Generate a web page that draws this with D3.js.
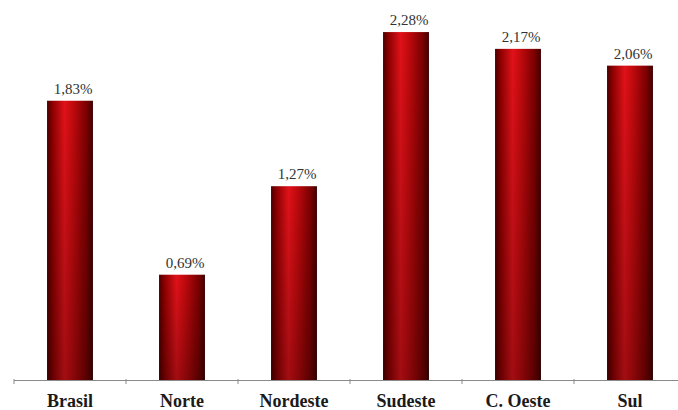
<!DOCTYPE html>
<html>
<head>
<meta charset="utf-8">
<script src="https://cdn.jsdelivr.net/npm/d3@7"></script>
<style>
  body { margin: 0; background: #fff; }
  #T { width: 678px; height: 410px; }
</style>
</head>
<body>
<div id="T"></div>
<script>
// data
const regioes = ["Brasil", "Norte", "Nordeste", "Sudeste", "C. Oeste", "Sul"];
const taxas = [1.83, 0.69, 1.27, 2.28, 2.17, 2.06];
const rotulos = ["1,83%", "0,69%", "1,27%", "2,28%", "2,17%", "2,06%"];

const parent = d3.select('#T');
const width = 678, height = 410;
const SVG = parent.append('svg')
    .attr("width", width)
    .attr("height", height);

const defs = SVG.append("defs");
const grad = defs.append("linearGradient").attr("id", "barra")
    .attr("x1", "0%").attr("x2", "100%").attr("y1", "0%").attr("y2", "0%");
grad.append("stop").attr("offset", "0%").attr("stop-color", "#4a0000");
grad.append("stop").attr("offset", "12%").attr("stop-color", "#8e0000");
grad.append("stop").attr("offset", "38%").attr("stop-color", "#e0121a");
grad.append("stop").attr("offset", "55%").attr("stop-color", "#c40a0e");
grad.append("stop").attr("offset", "88%").attr("stop-color", "#760000");
grad.append("stop").attr("offset", "100%").attr("stop-color", "#3c0000");

const sombra = defs.append("linearGradient").attr("id", "sombra")
    .attr("x1", "0%").attr("x2", "0%").attr("y1", "0%").attr("y2", "100%");
sombra.append("stop").attr("offset", "0%").attr("stop-color", "#000").attr("stop-opacity", 0);
sombra.append("stop").attr("offset", "100%").attr("stop-color", "#000").attr("stop-opacity", 0.28);

const x = d3.scaleBand()
    .domain(regioes)
    .range([14, 686])
    .paddingInner(0.59)
    .paddingOuter(0.295);

const y = d3.scaleLinear()
    .domain([0, 2.5])
    .range([380, 380 - 2.5 * 152.6]);

const dados = regioes.map((r, i) => ({ r: r, v: taxas[i], t: rotulos[i] }));

// bars
SVG.selectAll("rect.barra").data(dados).enter().append("rect")
    .attr("class", "barra")
    .attr("x", d => x(d.r))
    .attr("y", d => y(d.v))
    .attr("width", x.bandwidth())
    .attr("height", d => y(0) - y(d.v))
    .attr("fill", "url(#barra)");
SVG.selectAll("rect.sombra").data(dados).enter().append("rect")
    .attr("class", "sombra")
    .attr("x", d => x(d.r))
    .attr("y", d => y(d.v))
    .attr("width", x.bandwidth())
    .attr("height", d => y(0) - y(d.v))
    .attr("fill", "url(#sombra)");

// x axis line with ticks at category boundaries
const eixo = SVG.append("g");
eixo.append("line")
    .attr("x1", 14).attr("x2", 686)
    .attr("y1", y(0) + 0.5).attr("y2", y(0) + 0.5)
    .attr("stroke", "#8a8a8a").attr("stroke-width", 1.2);
eixo.selectAll("line.tick").data(regioes).enter().append("line")
    .attr("class", "tick")
    .attr("x1", d => x(d) - (x.step() - x.bandwidth()) / 2)
    .attr("x2", d => x(d) - (x.step() - x.bandwidth()) / 2)
    .attr("y1", y(0) - 1).attr("y2", y(0) + 4)
    .attr("stroke", "#8a8a8a").attr("stroke-width", 1);

// category labels
SVG.selectAll("text.cat").data(dados).enter().append("text")
    .attr("class", "cat")
    .attr("x", d => x(d.r) + x.bandwidth() / 2)
    .attr("y", 407)
    .attr("text-anchor", "middle")
    .attr("font-family", "'Liberation Serif', 'Times New Roman', serif")
    .attr("font-weight", "bold")
    .attr("font-size", "18px")
    .attr("fill", "#1a1a1a")
    .text(d => d.r);

// value labels
SVG.selectAll("text.val").data(dados).enter().append("text")
    .attr("class", "val")
    .attr("x", d => x(d.r) + x.bandwidth() / 2 + 3)
    .attr("y", d => y(d.v) - 7)
    .attr("text-anchor", "middle")
    .attr("font-family", "'Liberation Serif', 'Times New Roman', serif")
    .attr("font-size", "15px")
    .attr("fill", "#333")
    .text(d => d.t);
</script>
</body>
</html>
